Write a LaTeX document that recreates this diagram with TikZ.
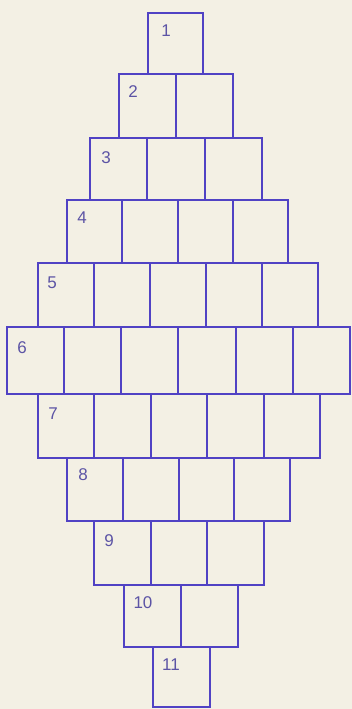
\documentclass[tikz,border=0pt]{standalone}
\usepackage{fontspec}
\setmainfont{Liberation Sans}
\definecolor{paper}{RGB}{243,240,228}
\definecolor{ink}{RGB}{80,66,196}
\definecolor{numink}{RGB}{92,84,165}
\begin{document}
\begin{tikzpicture}[x=1pt,y=-1pt,
  cell/.style={draw=ink, line width=2pt, inner sep=0pt, outer sep=0pt, anchor=north west},
  num/.style={text=numink, font=\fontsize{17}{17}\selectfont, inner sep=0pt}]
\fill[paper] (0,0) rectangle (352,709);
\useasboundingbox (0,0) rectangle (352,709);
% row: index / top / bottom / left / right / cells / label x / label y
\foreach \r/\t/\b/\l/\rr/\n/\lx/\ly in {
  1/13/74/148/203/1/166/31,
  2/74/138/119/233/2/133/92,
  3/138/200/90/262/3/106/158,
  4/200/263/67/288/4/82/218,
  5/263/327/38/318/5/52/283,
  6/327/394/7/350/6/22/348,
  7/394/458/38/320/5/53/414,
  8/458/521/67/290/4/83/475,
  9/521/585/94/264/3/109/541,
  10/585/647/124/238/2/143/603,
  11/647/707/153/210/1/171/665}{
  \pgfmathsetmacro{\w}{(\rr-\l)/\n}
  \pgfmathsetmacro{\h}{\b-\t}
  \foreach \k in {1,...,\n}{
    \pgfmathtruncatemacro{\xa}{round(\l+(\k-1)*\w)}
    \pgfmathtruncatemacro{\xb}{round(\l+\k*\w)}
    \pgfmathtruncatemacro{\cw}{\xb-\xa}
    \node[cell, minimum width=\cw pt, minimum height=\h pt] (c-\r-\k) at (\xa,\t) {};
  }
  \node[num] (n-\r) at (\lx,\ly) {\r};
}
\end{tikzpicture}
\end{document}
